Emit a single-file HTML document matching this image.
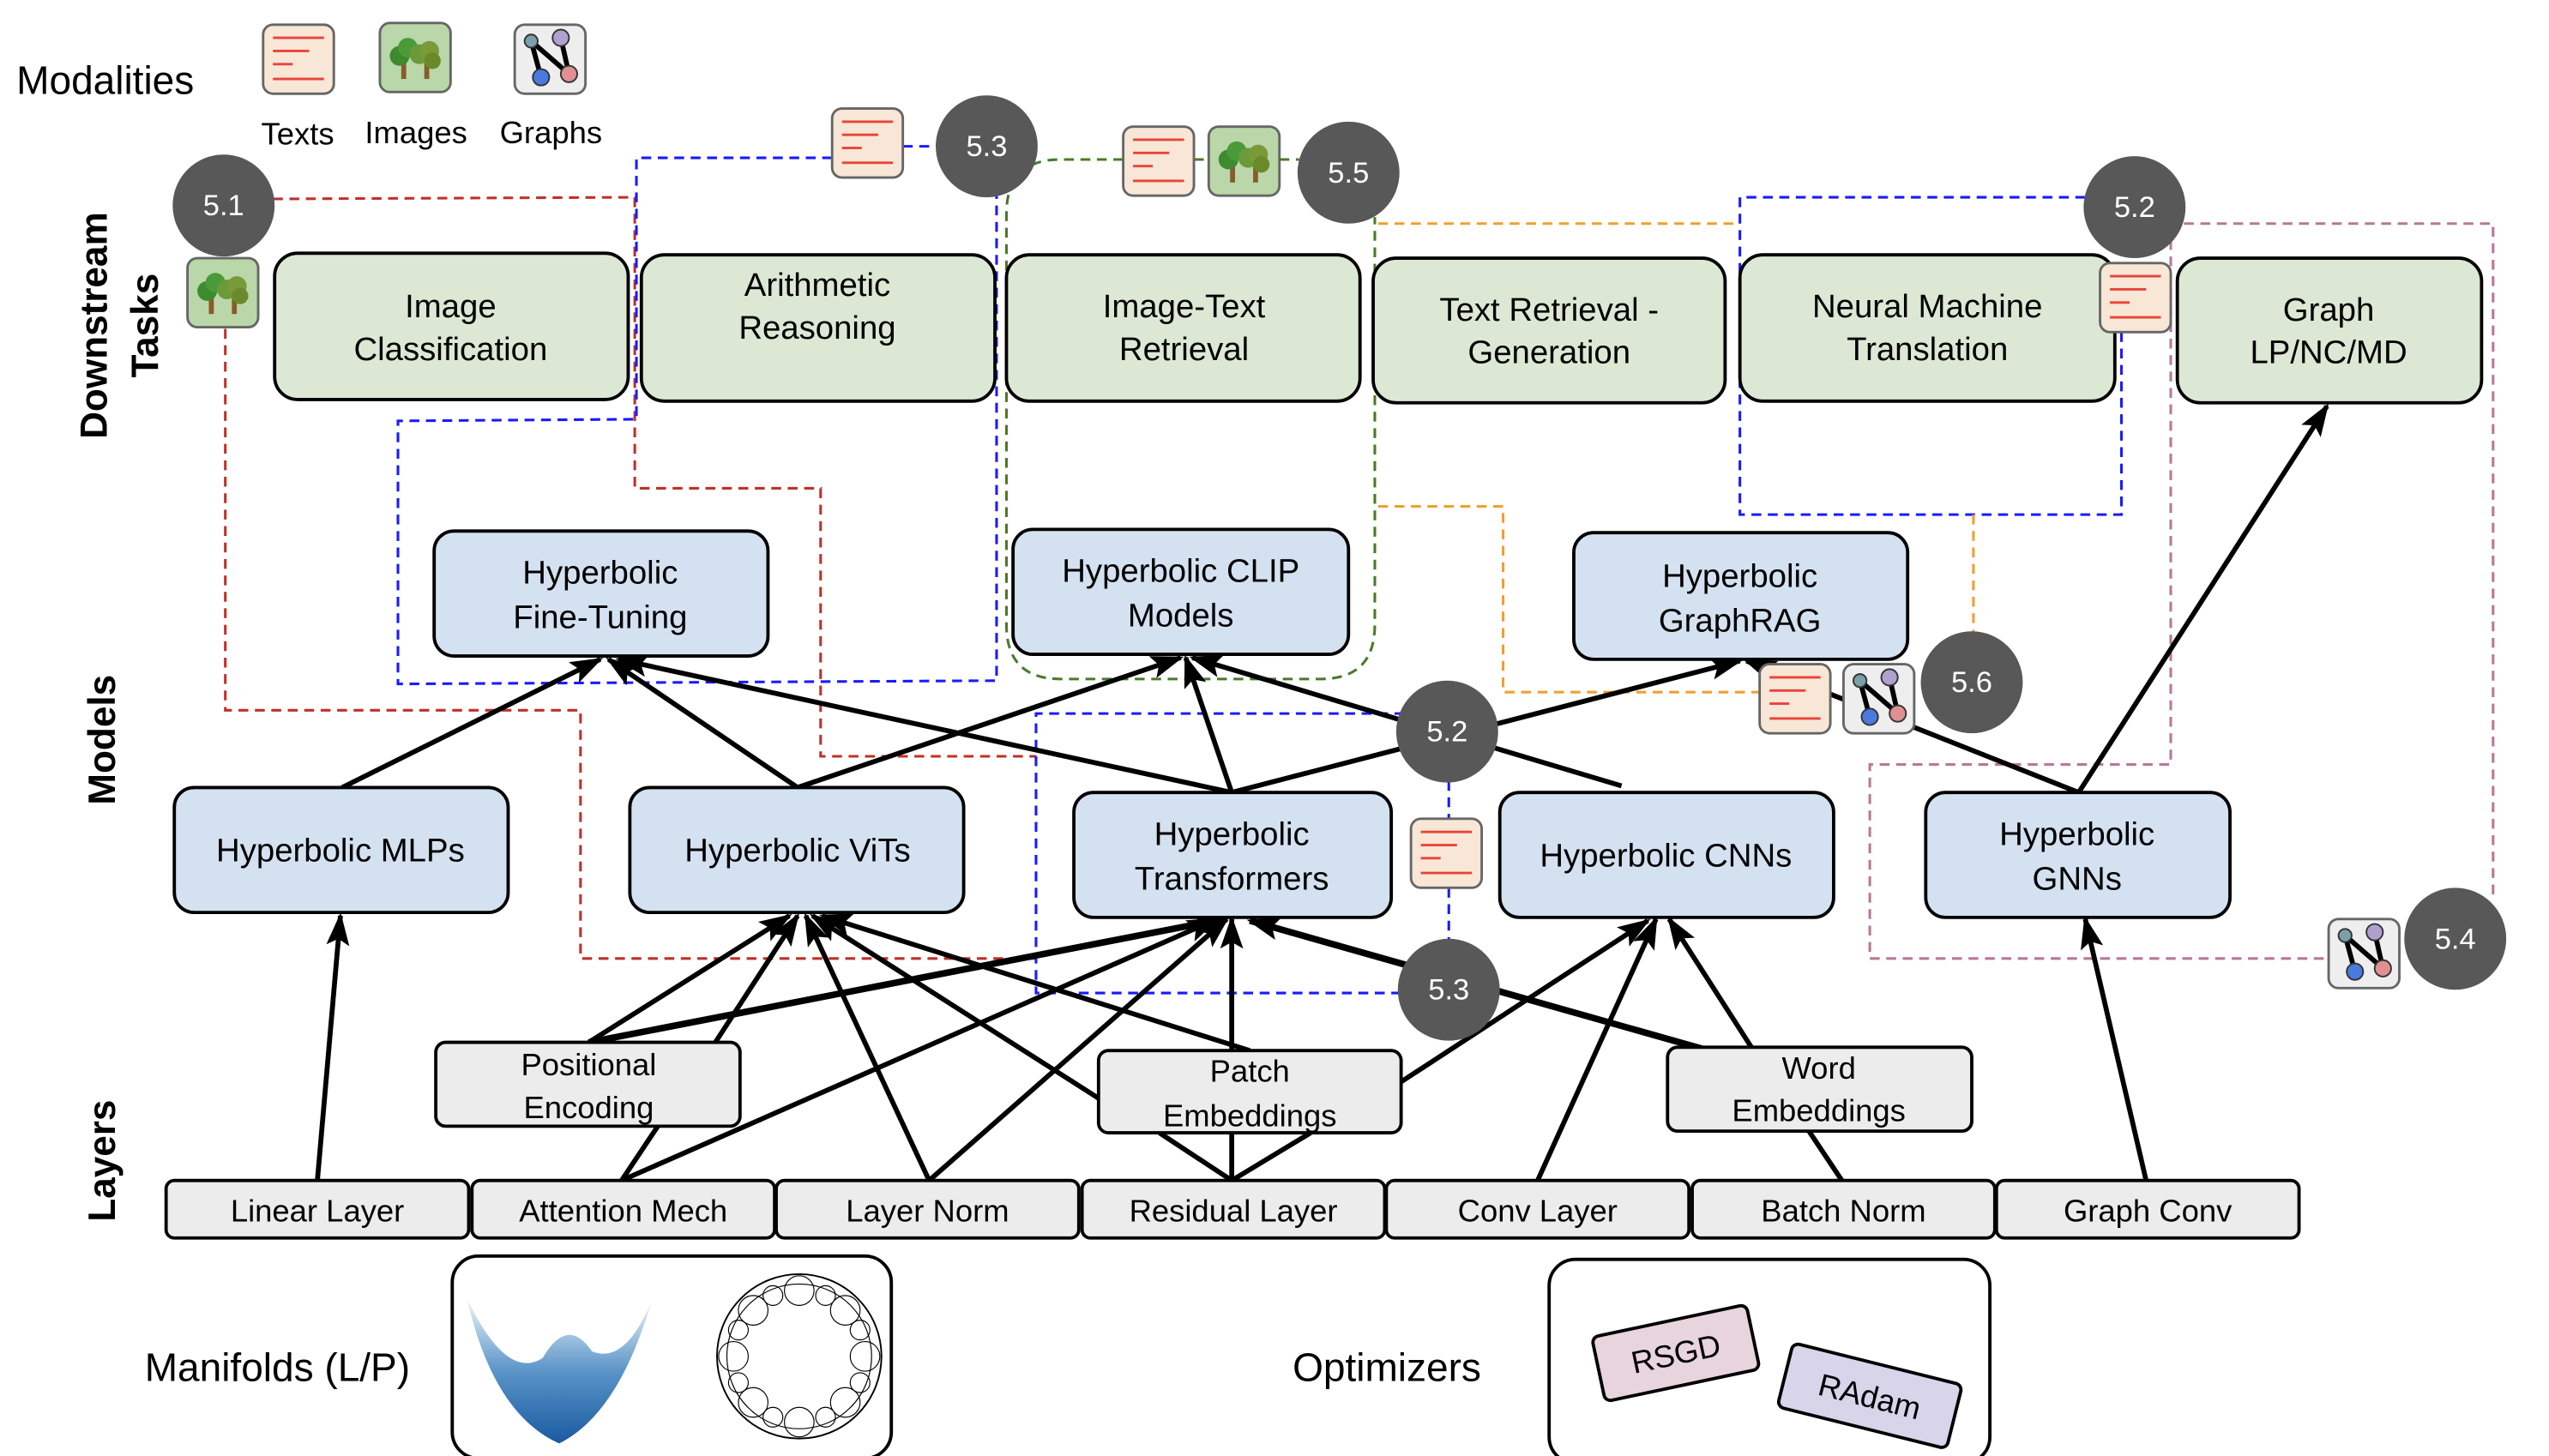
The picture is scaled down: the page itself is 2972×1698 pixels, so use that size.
<!DOCTYPE html>
<html><head><meta charset="utf-8"><style>
html,body{margin:0;padding:0;background:#fff;}
svg{display:block;}
text{font-family:"Liberation Sans",sans-serif;}
</style></head><body>
<svg width="2972" height="1698" viewBox="0 0 1550 885.6" preserveAspectRatio="none" xmlns="http://www.w3.org/2000/svg">
<defs>
<marker id="ah" markerUnits="userSpaceOnUse" markerWidth="20" markerHeight="14" refX="18" refY="7" orient="auto"><path d="M0,0 L20,7 L0,14 L4,7 Z" fill="#000"/></marker>
<g id="ti"><rect x="0" y="0" width="43" height="42" rx="6" fill="#f8e6d6" stroke="#666" stroke-width="1.5"/><g stroke="#e8443a" stroke-width="1.5"><line x1="6" y1="8" x2="37" y2="8"/><line x1="6" y1="16" x2="28" y2="16"/><line x1="6" y1="24" x2="18" y2="24"/><line x1="6" y1="33" x2="37" y2="33"/></g></g>
<g id="ii"><rect x="0" y="0" width="43" height="42" rx="6" fill="#b9d7a8" stroke="#666" stroke-width="1.5"/><rect x="13" y="22" width="3" height="12" fill="#8a5a2a"/><rect x="27" y="22" width="3" height="12" fill="#8a5a2a"/><circle cx="12" cy="20" r="6" fill="#3e8a2e"/><circle cx="17" cy="15" r="6" fill="#4a9a3a"/><circle cx="24" cy="19" r="6" fill="#6a9a3a"/><circle cx="30" cy="17" r="6" fill="#7a9a3a"/><circle cx="32" cy="23" r="5" fill="#6a8a2a"/></g>
<g id="gi"><rect x="0" y="0" width="43" height="42" rx="6" fill="#eeeeee" stroke="#666" stroke-width="1.5"/><g stroke="#000" stroke-width="3"><line x1="10" y1="10" x2="16" y2="32"/><line x1="10" y1="10" x2="33" y2="30"/><line x1="28" y1="8" x2="33" y2="30"/></g><circle cx="10" cy="10" r="4" fill="#7aa0a8" stroke="#333"/><circle cx="28" cy="8" r="5" fill="#b0a0d0" stroke="#333"/><circle cx="16" cy="32" r="5" fill="#4a7ae0" stroke="#333"/><circle cx="33" cy="30" r="5" fill="#e09090" stroke="#333"/></g>
<linearGradient id="bowl" x1="0" y1="0" x2="0" y2="1"><stop offset="0" stop-color="#eef4fa"/><stop offset="0.5" stop-color="#5a94c8"/><stop offset="1" stop-color="#1a5aa0"/></linearGradient>
</defs>

<text x="10" y="57" font-size="24">Modalities</text>
<use href="#ti" x="160" y="15"/><use href="#ii" x="231" y="14"/><use href="#gi" x="313" y="15"/>
<text x="181" y="88" font-size="19" text-anchor="middle">Texts</text>
<text x="253" y="87" font-size="19" text-anchor="middle">Images</text>
<text x="335" y="87" font-size="19" text-anchor="middle">Graphs</text>
<g font-size="23" font-weight="bold" text-anchor="middle">
<text transform="translate(65,198) rotate(-90)">Downstream</text>
<text transform="translate(96,198) rotate(-90)">Tasks</text>
<text transform="translate(70,450) rotate(-90)">Models</text>
<text transform="translate(70,706) rotate(-90)">Layers</text>
</g>

<g fill="none" stroke-width="1.6" stroke-dasharray="6,4">
<path d="M166,121 L386,120 L386,297 L499,297 L499,460 L630,460" stroke="#c0302a"/>
<path d="M137,200 L137,432 L353,432 L353,583 L630,583" stroke="#c0302a"/>
<path d="M549,89 L575,89 M606,115 L606,414 L242,416 L242,256 L387,255 L387,96 L506,96" stroke="#1a1aff"/>
<path d="M852,604 L630,604 L630,434 L852,434 M881,475 L881,498 M881,540 L881,572" stroke="#1a1aff"/>
<path d="M1268,120 L1058,120 L1058,313 L1290,313 L1290,202" stroke="#1a1aff"/>
<path d="M683,97 L645,97 Q612,97 612,130 L612,380 Q612,413 645,413 L803,413 Q836,413 836,380 L836,132 M726,97 L735,97 M778,97 L790,97" stroke="#4a7a2a"/>
<path d="M838,136 L1058,136 M838,308 L914,308 L914,421 L1070,421 M1200,313 L1200,385" stroke="#f0a030"/>
<path d="M1328,136 L1516,136 L1516,545 M1320,136 L1320,465 L1137,465 L1137,583 L1416,583" stroke="#b87898"/>
</g>

<g stroke="#000" stroke-width="3" fill="none">
<line x1="208" y1="479" x2="365" y2="401" marker-end="url(#ah)"/>
<line x1="485" y1="479" x2="370" y2="401" marker-end="url(#ah)"/>
<line x1="485" y1="479" x2="718" y2="400" marker-end="url(#ah)"/>
<line x1="749" y1="482" x2="376" y2="401" marker-end="url(#ah)"/>
<line x1="749" y1="482" x2="721" y2="400" marker-end="url(#ah)"/>
<line x1="749" y1="482" x2="1058" y2="402" marker-end="url(#ah)"/>
<line x1="986" y1="478" x2="725" y2="400" marker-end="url(#ah)"/>
<line x1="1264" y1="482" x2="1062" y2="402" marker-end="url(#ah)"/>
<line x1="1264" y1="482" x2="1415" y2="247" marker-end="url(#ah)"/>
<line x1="193" y1="718" x2="207" y2="557" marker-end="url(#ah)"/>
<line x1="378" y1="718" x2="400" y2="685"/>
<line x1="378" y1="718" x2="740" y2="559" marker-end="url(#ah)"/>
<line x1="358" y1="634" x2="480" y2="557" marker-end="url(#ah)"/>
<line x1="435" y1="634" x2="485" y2="557" marker-end="url(#ah)"/>
<line x1="358" y1="634" x2="744" y2="559" marker-end="url(#ah)" stroke-width="4"/>
<line x1="565" y1="718" x2="490" y2="557" marker-end="url(#ah)"/>
<line x1="565" y1="718" x2="746" y2="559" marker-end="url(#ah)"/>
<line x1="668" y1="668" x2="494" y2="557" marker-end="url(#ah)"/>
<line x1="760" y1="639" x2="500" y2="557" marker-end="url(#ah)"/>
<line x1="749" y1="639" x2="749" y2="559" marker-end="url(#ah)"/>
<line x1="852" y1="658" x2="1002" y2="560" marker-end="url(#ah)"/>
<line x1="705" y1="689" x2="749" y2="718"/><line x1="797" y1="689" x2="749" y2="718"/><line x1="749" y1="689" x2="749" y2="718"/>
<line x1="935" y1="718" x2="1007" y2="559" marker-end="url(#ah)"/>
<line x1="1065" y1="637" x2="1015" y2="559" marker-end="url(#ah)"/>
<line x1="1106" y1="658" x2="760" y2="560" marker-end="url(#ah)" stroke-width="4"/>
<line x1="1120" y1="718" x2="1100" y2="688"/>
<line x1="1305" y1="718" x2="1268" y2="559" marker-end="url(#ah)"/>
</g>

<g fill="#dce8d4" stroke="#000" stroke-width="2">
<rect x="167" y="154" width="215" height="89" rx="14"/>
<rect x="390" y="155" width="215" height="89" rx="14"/>
<rect x="612" y="155" width="215" height="89" rx="14"/>
<rect x="835" y="157" width="214" height="88" rx="14"/>
<rect x="1058" y="155" width="228" height="89" rx="14"/>
<rect x="1324" y="157" width="185" height="88" rx="14"/>
</g>
<g font-size="20" text-anchor="middle">
<text x="274" y="193">Image</text><text x="274" y="219">Classification</text>
<text x="497" y="180">Arithmetic</text><text x="497" y="206">Reasoning</text>
<text x="720" y="193">Image-Text</text><text x="720" y="219">Retrieval</text>
<text x="942" y="195">Text Retrieval -</text><text x="942" y="221">Generation</text>
<text x="1172" y="193">Neural Machine</text><text x="1172" y="219">Translation</text>
<text x="1416" y="195">Graph</text><text x="1416" y="221">LP/NC/MD</text>
</g>

<g fill="#d4e1f0" stroke="#000" stroke-width="2">
<rect x="264" y="323" width="203" height="76" rx="12"/>
<rect x="616" y="322" width="204" height="76" rx="12"/>
<rect x="957" y="324" width="203" height="77" rx="12"/>
<rect x="106" y="479" width="203" height="76" rx="12"/>
<rect x="383" y="479" width="203" height="76" rx="12"/>
<rect x="653" y="482" width="193" height="76" rx="12"/>
<rect x="912" y="482" width="203" height="76" rx="12"/>
<rect x="1171" y="482" width="185" height="76" rx="12"/>
</g>
<g font-size="20" text-anchor="middle">
<text x="365" y="355">Hyperbolic</text><text x="365" y="382">Fine-Tuning</text>
<text x="718" y="354">Hyperbolic CLIP</text><text x="718" y="381">Models</text>
<text x="1058" y="357">Hyperbolic</text><text x="1058" y="384">GraphRAG</text>
<text x="207" y="524">Hyperbolic MLPs</text>
<text x="485" y="524">Hyperbolic ViTs</text>
<text x="749" y="514">Hyperbolic</text><text x="749" y="541">Transformers</text>
<text x="1013" y="527">Hyperbolic CNNs</text>
<text x="1263" y="514">Hyperbolic</text><text x="1263" y="541">GNNs</text>
</g>

<g fill="#ececec" stroke="#000" stroke-width="2">
<rect x="265" y="634" width="185" height="51" rx="6"/>
<rect x="668" y="639" width="184" height="50" rx="6"/>
<rect x="1014" y="637" width="185" height="51" rx="6"/>
<rect x="101" y="718" width="184" height="35" rx="5"/>
<rect x="287" y="718" width="184" height="35" rx="5"/>
<rect x="472" y="718" width="184" height="35" rx="5"/>
<rect x="658" y="718" width="184" height="35" rx="5"/>
<rect x="843" y="718" width="184" height="35" rx="5"/>
<rect x="1029" y="718" width="184" height="35" rx="5"/>
<rect x="1214" y="718" width="184" height="35" rx="5"/>
</g>
<g font-size="19" text-anchor="middle">
<text x="358" y="654">Positional</text><text x="358" y="680">Encoding</text>
<text x="760" y="658">Patch</text><text x="760" y="685">Embeddings</text>
<text x="1106" y="656">Word</text><text x="1106" y="682">Embeddings</text>
<text x="193" y="743">Linear Layer</text>
<text x="379" y="743">Attention Mech</text>
<text x="564" y="743">Layer Norm</text>
<text x="750" y="743">Residual Layer</text>
<text x="935" y="743">Conv Layer</text>
<text x="1121" y="743">Batch Norm</text>
<text x="1306" y="743">Graph Conv</text>
</g>

<g fill="#585858"><circle cx="136" cy="125" r="31"/><circle cx="600" cy="89" r="31"/><circle cx="820" cy="105" r="31"/><circle cx="1298" cy="126" r="31"/><circle cx="880" cy="445" r="31"/><circle cx="1199" cy="415" r="31"/><circle cx="881" cy="602" r="31"/><circle cx="1493" cy="571" r="31"/></g>
<g fill="#fff" font-size="18" text-anchor="middle">
<text x="136" y="131">5.1</text><text x="600" y="95">5.3</text><text x="820" y="111">5.5</text><text x="1298" y="132">5.2</text><text x="880" y="451">5.2</text><text x="1199" y="421">5.6</text><text x="881" y="608">5.3</text><text x="1493" y="577">5.4</text>
</g>

<use href="#ii" x="114" y="157"/>
<use href="#ti" x="506" y="66"/>
<use href="#ti" x="683" y="77"/><use href="#ii" x="735" y="77"/>
<use href="#ti" x="1277" y="160"/>
<use href="#ti" x="858" y="498"/>
<use href="#ti" x="1070" y="404"/><use href="#gi" x="1121" y="404"/>
<use href="#gi" x="1416" y="559"/>

<text x="88" y="840" font-size="24">Manifolds (L/P)</text>
<rect x="275" y="764" width="267" height="123" rx="16" fill="#fff" stroke="#000" stroke-width="2"/>
<path d="M284,790 Q300,860 340,878 Q376,860 396,792 Q380,830 360,822 Q345,800 330,826 Q308,840 284,790 Z" fill="url(#bowl)"/>
<circle cx="486" cy="825" r="50" fill="none" stroke="#000" stroke-width="1"/>
<g fill="none" stroke="#000" stroke-width="0.6">
<circle cx="486" cy="825" r="44"/>
<circle cx="486" cy="785" r="9"/><circle cx="486" cy="865" r="9"/><circle cx="446" cy="825" r="9"/><circle cx="526" cy="825" r="9"/>
<circle cx="458" cy="797" r="9"/><circle cx="514" cy="797" r="9"/><circle cx="458" cy="853" r="9"/><circle cx="514" cy="853" r="9"/>
<circle cx="470" cy="788" r="6"/><circle cx="502" cy="788" r="6"/><circle cx="470" cy="862" r="6"/><circle cx="502" cy="862" r="6"/>
<circle cx="449" cy="809" r="6"/><circle cx="523" cy="809" r="6"/><circle cx="449" cy="841" r="6"/><circle cx="523" cy="841" r="6"/>
</g>
<text x="786" y="840" font-size="24">Optimizers</text>
<rect x="942" y="766" width="268" height="124" rx="16" fill="#fff" stroke="#000" stroke-width="2"/>
<g transform="translate(1019,823) rotate(-12)"><rect x="-48" y="-20" width="96" height="40" rx="4" fill="#e8d4dc" stroke="#000" stroke-width="2"/><text x="0" y="7" font-size="19" text-anchor="middle">RSGD</text></g>
<g transform="translate(1137,849) rotate(14)"><rect x="-53" y="-20" width="106" height="40" rx="4" fill="#d8d4ea" stroke="#000" stroke-width="2"/><text x="0" y="7" font-size="19" text-anchor="middle">RAdam</text></g>
</svg>
</body></html>
